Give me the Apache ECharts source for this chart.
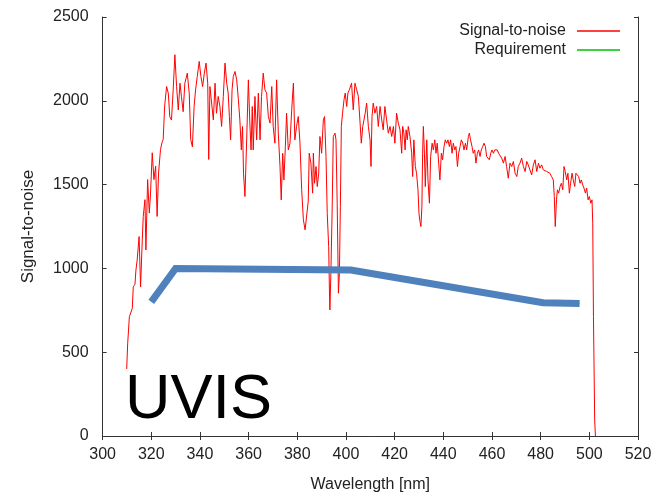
<!DOCTYPE html>
<html>
<head>
<meta charset="utf-8">
<title>UVIS signal-to-noise</title>
<script src="https://cdn.jsdelivr.net/npm/echarts@6/dist/echarts.min.js"></script>
<style>
    html, body { margin: 0; padding: 0; background: #ffffff; }
    #chart { width: 658px; height: 498px; }
</style>
</head>
<body>
<div id="chart"></div>
<script>
    // wavelength [nm] / signal-to-noise
    var wavelength = [
        309.9, 310.3, 311.0, 311.7, 312.2, 312.6, 313.3, 313.7, 314.2, 315.0,
        315.6, 316.3, 316.7, 317.4, 317.8, 318.5, 319.2, 319.7, 320.4, 321.1,
        321.8, 322.4, 323.0, 323.8, 324.4, 324.9, 325.5, 326.3, 327.0, 327.6,
        328.3, 329.0, 329.7, 330.4, 331.1, 331.8, 332.4, 333.1, 333.8, 334.8,
        335.6, 336.2, 336.9, 337.6, 338.2, 338.9, 339.7, 340.4, 341.1, 341.8,
        342.5, 343.2, 343.6, 344.1, 344.8, 345.5, 346.2, 346.8, 347.5, 348.2,
        348.9, 349.6, 350.3, 351.0, 351.6, 352.1, 352.6, 353.2, 353.7, 354.4,
        355.1, 355.8, 356.4, 357.0, 357.5, 357.9, 358.5, 359.2, 359.9, 360.5,
        361.0, 361.5, 361.9, 362.6, 363.3, 364.0, 364.7, 365.3, 366.0, 366.7,
        367.4, 368.1, 368.8, 369.5, 370.1, 370.8, 371.5, 372.2, 372.9, 373.4,
        374.0, 374.5, 375.1, 375.6, 376.3, 377.0, 377.7, 378.4, 379.0, 379.7,
        380.4, 381.1, 381.8, 382.5, 383.2, 383.8, 384.5, 384.9, 385.6, 386.3,
        386.6, 387.1, 387.7, 388.2, 388.8, 389.3, 390.0, 390.7, 391.2, 391.8,
        392.3, 392.9, 393.2, 393.4, 393.8, 394.3, 394.8, 395.5, 395.9, 396.4,
        396.9, 397.3, 397.7, 398.1, 398.6, 399.2, 399.7, 400.3, 400.8, 401.4,
        402.3, 403.0, 403.7, 404.4, 405.1, 405.8, 406.3, 406.9, 407.4, 407.9,
        408.5, 409.2, 409.9, 410.3, 410.7, 411.2, 411.9, 412.6, 413.3, 414.0,
        414.7, 415.3, 416.0, 416.7, 417.4, 418.1, 418.8, 419.5, 420.1, 420.8,
        421.5, 422.2, 422.9, 423.3, 423.8, 424.3, 424.7, 425.2, 425.6, 426.3,
        427.0, 427.4, 427.9, 428.5, 429.0, 429.6, 430.0, 430.4, 430.8, 431.2,
        431.5, 431.8, 432.2, 432.6, 433.2, 433.7, 434.3, 434.8, 435.4, 435.9,
        436.5, 437.0, 437.5, 438.1, 438.6, 439.2, 439.7, 440.3, 440.8, 441.4,
        441.9, 442.5, 443.0, 443.6, 444.1, 444.7, 445.2, 445.8, 446.3, 446.9,
        447.4, 448.0, 448.5, 449.1, 449.6, 450.3, 450.7, 451.2, 451.8, 452.3,
        452.9, 453.4, 454.0, 454.5, 455.1, 455.6, 456.2, 456.7, 457.3, 457.8,
        458.4, 458.9, 459.5, 460.0, 460.6, 461.1, 461.7, 462.2, 462.7, 463.3,
        464.0, 464.7, 465.4, 466.0, 466.7, 467.4, 468.1, 468.8, 469.5, 470.2,
        470.8, 471.5, 472.2, 472.9, 473.6, 474.3, 474.9, 475.6, 476.3, 477.0,
        477.7, 478.4, 479.1, 479.7, 480.4, 481.1, 481.8, 482.5, 483.2, 483.8,
        484.5, 485.2, 485.6, 486.0, 486.5, 486.9, 487.4, 488.0, 488.5, 489.1,
        489.6, 490.1, 490.7, 491.2, 491.8, 492.3, 492.9, 493.4, 494.0, 494.5,
        495.1, 495.6, 496.2, 496.7, 497.3, 497.8, 498.4, 498.9, 499.5, 500.0,
        500.6, 501.1, 501.4, 501.7, 502.2, 502.5
    ];
    var snr = [
        400, 550, 712, 740, 762, 890, 905, 990, 1050, 1190,
        890, 1170, 1310, 1410, 1110, 1530, 1330, 1450, 1690, 1530,
        1610, 1310, 1570, 1710, 1750, 1770, 1970, 2085, 2045, 1905,
        1885, 2065, 2275, 2085, 1945, 2105, 2025, 1935, 2105, 2165,
        2045, 1770, 1725, 1965, 2065, 2145, 2235, 2145, 2085, 2165,
        2225, 2105, 1650, 2085, 2085, 1886, 2105, 1926, 2026, 1966,
        1847, 2026, 2225, 2105, 2046, 1906, 1767, 2066, 2145, 2175,
        2125, 2006, 1886, 1707, 1847, 1568, 1429, 1767, 2125, 1867,
        1707, 1966, 1707, 2026, 1767, 2046, 1767, 2026, 2165, 2066,
        2046, 1906, 1867, 2085, 1847, 1747, 2125, 1807, 1608, 1409,
        1687, 1528, 1727, 1926, 1707, 1747, 1946, 2105, 1767, 1847,
        1906, 1750, 1470, 1290, 1230, 1220, 1400, 1687, 1628, 1449,
        1687, 1508, 1608, 1488, 1568, 1787, 1687, 1886, 1906, 1668,
        1329, 1130, 871, 752, 971, 1329, 1787, 1807, 1767, 1389,
        852, 971, 1369, 1847, 1926, 2006, 2046, 1966, 2046, 2066,
        2105, 1946, 2105, 2066, 2026, 1867, 1747, 1847, 1847, 1926,
        1986, 1847, 1767, 1608, 1906, 1986, 1926, 1966, 1847, 1966,
        1886, 1827, 1966, 1886, 1807, 1847, 1787, 1847, 1747, 1926,
        1867, 1827, 1687, 1847, 1807, 1707, 1827, 1767, 1847, 1787,
        1687, 1548, 1767, 1608, 1568, 1469, 1329, 1280, 1250, 1369,
        1687, 1847, 1707, 1488, 1767, 1528, 1389, 1668, 1747, 1707,
        1767, 1687, 1747, 1628, 1528, 1687, 1648, 1727, 1767, 1747,
        1767, 1727, 1767, 1687, 1747, 1707, 1727, 1608, 1687, 1727,
        1767, 1747, 1707, 1747, 1707, 1787, 1807, 1767, 1727, 1687,
        1707, 1628, 1687, 1707, 1668, 1707, 1727, 1747, 1727, 1668,
        1668, 1648, 1687, 1707, 1687, 1707, 1717, 1707, 1687, 1688,
        1658, 1628, 1668, 1608, 1538, 1628, 1608, 1638, 1568, 1548,
        1608, 1628, 1658, 1608, 1578, 1638, 1618, 1588, 1558, 1618,
        1648, 1578, 1628, 1598, 1618, 1588, 1598, 1578, 1578, 1568,
        1548, 1528, 1429, 1250, 1409, 1469, 1449, 1489, 1508, 1469,
        1608, 1578, 1528, 1568, 1449, 1508, 1568, 1528, 1489, 1568,
        1578, 1548, 1508, 1528, 1498, 1479, 1449, 1479, 1409, 1429,
        1389, 1409, 1270, 712, 96, 0
    ];

    // requirement curve (the thick blue overlay)
    var reqWavelength = [320, 330, 402, 481, 496];
    var reqValue = [800, 1000, 990, 795, 790];

    var xTicks = [300, 520, 20];
    var yTicks = [0, 2500, 500];

    function pairs(xs, ys) {
        var out = [];
        for (var i = 0; i < xs.length; i++) {
            out.push([xs[i], ys[i]]);
        }
        return out;
    }

    var font = 'Liberation Sans, Arial, sans-serif';
    var axisColor = '#333333';
    var textColor = '#222222';

    var chart = echarts.init(document.getElementById('chart'));

    function legendAt(name, top) {
        return {
            data: [{ name: name, icon: 'rect' }],
            right: 38, top: top,
            padding: 0,
            align: 'right',
            itemWidth: 43, itemHeight: 1.5,
            textStyle: { fontSize: 16, color: textColor, fontFamily: font, padding: [0, 6, 0, 0] }
        };
    }

    var options = {
        animation: false,
        backgroundColor: '#ffffff',
        textStyle: { fontFamily: font },
        grid: { left: 102.6, right: 20, top: 17, bottom: 62 },
        legend: [
            legendAt('Signal-to-noise', 23),
            legendAt('Requirement', 42)
        ],
        xAxis: [
            {
                type: 'value',
                position: 'bottom',
                min: xTicks[0], max: xTicks[1], interval: xTicks[2],
                name: 'Wavelength [nm]',
                nameLocation: 'middle',
                nameGap: 41,
                nameTextStyle: { fontSize: 16, color: textColor, fontFamily: font },
                axisLine: { show: true, lineStyle: { color: axisColor, width: 1 } },
                axisTick: { show: true, inside: true, length: 4, lineStyle: { color: axisColor } },
                axisLabel: { fontSize: 16, color: textColor, margin: 11, showMinLabel: true, showMaxLabel: true },
                splitLine: { show: false }
            },
            {
                type: 'value',
                position: 'top',
                min: xTicks[0], max: xTicks[1], interval: xTicks[2],
                axisLine: { show: true, lineStyle: { color: axisColor, width: 1 } },
                axisTick: { show: true, inside: true, length: 4, lineStyle: { color: axisColor } },
                axisLabel: { show: false },
                splitLine: { show: false }
            }
        ],
        yAxis: [
            {
                type: 'value',
                position: 'left',
                min: yTicks[0], max: yTicks[1], interval: yTicks[2],
                name: 'Signal-to-noise',
                nameLocation: 'middle',
                nameGap: 66,
                nameTextStyle: { fontSize: 17, color: textColor, fontFamily: font },
                axisLine: { show: true, lineStyle: { color: axisColor, width: 1 } },
                axisTick: { show: true, inside: true, length: 4, lineStyle: { color: axisColor } },
                axisLabel: {
                    fontSize: 16, color: textColor, margin: 14,
                    formatter: function (v) { return String(v); }
                },
                splitLine: { show: false }
            },
            {
                type: 'value',
                position: 'right',
                min: yTicks[0], max: yTicks[1], interval: yTicks[2],
                axisLine: { show: true, lineStyle: { color: axisColor, width: 1 } },
                axisTick: { show: true, inside: true, length: 4, lineStyle: { color: axisColor } },
                axisLabel: { show: false },
                splitLine: { show: false }
            }
        ],
        series: [
            {
                name: 'Signal-to-noise',
                type: 'line',
                data: pairs(wavelength, snr),
                symbol: 'none',
                color: '#ff0000',
                lineStyle: { color: '#ff0000', width: 1 },
                z: 3
            },
            {
                // plotted requirement, covered by the blue overlay
                name: 'Requirement',
                type: 'line',
                data: pairs(reqWavelength, reqValue),
                symbol: 'none',
                color: '#00c000',
                lineStyle: { color: '#00c000', width: 1 },
                z: 4
            },
            {
                name: 'Requirement overlay',
                type: 'line',
                data: pairs(reqWavelength, reqValue),
                symbol: 'none',
                color: '#4f81bd',
                lineStyle: { color: '#4f81bd', width: 7, cap: 'butt', join: 'miter' },
                z: 5
            }
        ],
        graphic: [
            {
                type: 'text',
                left: 125,
                top: 369,
                style: {
                    text: 'UVIS',
                    fontSize: 63,
                    fontFamily: font,
                    fill: '#000000'
                },
                z: 10
            }
        ]
    };

    chart.setOption(options);

    window.addEventListener('resize', function () {
        chart.resize();
    }, false);
</script>
</body>
</html>
